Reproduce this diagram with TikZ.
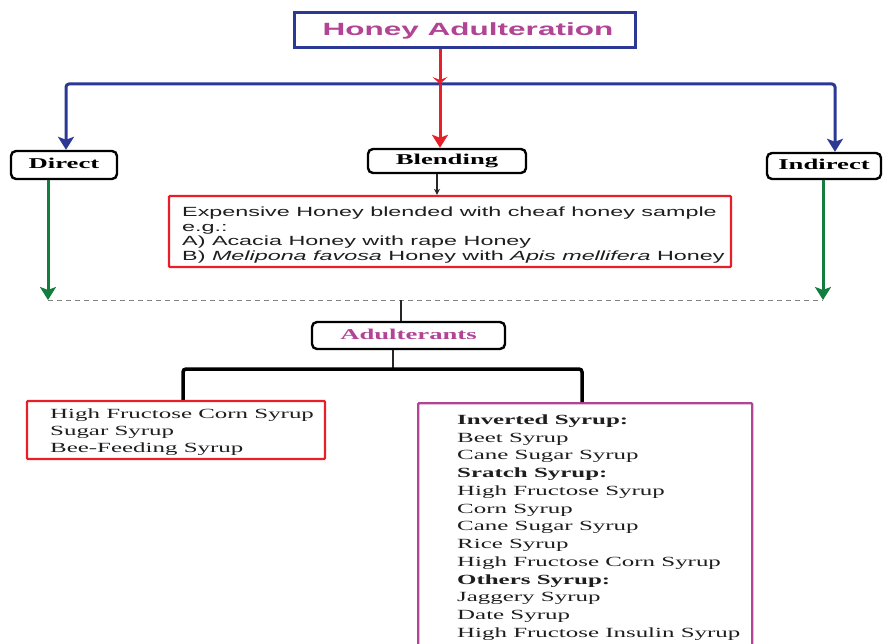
\documentclass[tikz,border=0pt]{standalone}
\usepackage{fontspec}
\usetikzlibrary{arrows.meta,calc}
\newfontfamily\stsans[FakeStretch=1.78]{Liberation Sans}
\newfontfamily\stsansb[FakeStretch=1.755]{Liberation Sans}
\newfontfamily\stserif[FakeStretch=1.78]{Liberation Serif}
\definecolor{dblue}{RGB}{44,57,148}
\definecolor{hred}{RGB}{232,30,40}
\definecolor{dgreen}{RGB}{18,125,60}
\definecolor{hmag}{RGB}{178,68,150}
\definecolor{txt}{RGB}{30,30,30}
\definecolor{dgray}{RGB}{130,130,130}
\begin{document}
\begin{tikzpicture}[x=1pt,y=-1pt,
  catbox/.style={draw=black, line width=2.4pt, rounded corners=5pt, inner sep=0pt,
    text height=10pt, text depth=3pt,
    font=\stserif\bfseries\fontsize{15}{17}\selectfont, text=black},
  boxframe/.style={line width=2.4pt, inner sep=0pt, rounded corners=1pt},
  listtext/.style={anchor=north west, inner sep=0pt, align=left, text=txt},
  arrowtip/.style={-{Stealth[length=13pt,width=16pt,inset=3pt]}},
  blueline/.style={draw=dblue, line width=3pt, arrowtip, rounded corners=3pt},
  redline/.style={draw=hred, line width=3pt},
  greenline/.style={draw=dgreen, line width=3pt, arrowtip},
  heavyline/.style={draw=black, line width=3.5pt, rounded corners=3pt},
  thinline/.style={draw=black!85, line width=1.3pt},
  dashline/.style={draw=dgray, line width=1pt, dash pattern=on 5pt off 4pt}
]
\useasboundingbox (0,0) rectangle (883,644);
\clip (0,0) rectangle (883,644);

% title
\node[draw=dblue, line width=3pt, minimum width=341pt, minimum height=35pt, inner sep=0pt,
  font=\stsans\bfseries\fontsize{17.7}{20}\selectfont, text=hmag] (title) at (464.5,30.5) {\hspace*{7pt}Honey Adulteration};

% category boxes
\node[catbox, minimum width=106pt, minimum height=28pt] (direct) at (64,165) {Direct};
\node[catbox, minimum width=158pt, minimum height=24pt] (blending) at (447,161) {Blending};
\node[catbox, minimum width=114pt, minimum height=26pt] (indirect) at (824,166) {Indirect};

% blending description
\node[boxframe, draw=hred, minimum width=562pt, minimum height=71pt] (expbox) at (450,231.5) {};
\node[listtext, font=\stsansb\fontsize{13.3}{14.8}\selectfont] (exptext) at (182,206.5)
  {Expensive Honey blended with cheaf honey sample\\
   e.g.:\\
   A) Acacia Honey with rape Honey\\
   B) \textit{Melipona favosa} Honey with \textit{Apis mellifera} Honey};

% adulterants
\node[catbox, minimum width=193pt, minimum height=27pt, text=hmag] (adult) at (408.5,335.5) {Adulterants};

% left list
\node[boxframe, draw=hred, minimum width=298pt, minimum height=58pt] (lbox) at (176,430) {};
\node[listtext, font=\stserif\fontsize{14}{17}\selectfont] (ltext) at (50,408.4)
  {High Fructose Corn Syrup\\
   Sugar Syrup\\
   Bee-Feeding Syrup};

% right list
\node[boxframe, draw=hmag, anchor=north west, minimum width=334pt, minimum height=260pt] (rbox) at (417,402) {};
\node[listtext, font=\stserif\fontsize{14}{17.75}\selectfont] (rtext) at (457,414.4)
  {\textbf{Inverted Syrup:}\\
   Beet Syrup\\
   Cane Sugar Syrup\\
   \textbf{Sratch Syrup:}\\
   High Fructose Syrup\\
   Corn Syrup\\
   Cane Sugar Syrup\\
   Rice Syrup\\
   High Fructose Corn Syrup\\
   \textbf{Others Syrup:}\\
   Jaggery Syrup\\
   Date Syrup\\
   High Fructose Insulin Syrup};

% coordinates
\coordinate (hub) at (440,84);
\coordinate (sa) at (437,0);
\coordinate (dl) at (48,300);
\coordinate (dr) at (823,300);
\coordinate (dm) at (401,300);
\coordinate (hm) at (393,369);
\coordinate (rt) at (582,402);

% connectors
\draw[blueline] (hub) -| ([xshift=2pt]direct.north);
\draw[blueline] (hub) -| ([xshift=11pt]indirect.north);
\draw[redline, -{Stealth[length=7pt,width=15pt,inset=3pt]}] (title.south -| hub) -- (hub);
\draw[redline, arrowtip] (hub) -- (hub |- blending.north);
\draw[thinline, -{Stealth[length=6pt,width=6pt]}] (blending.south -| sa) -- (expbox.north -| sa);

\draw[greenline] ([xshift=-16pt]direct.south) -- (dl);
\draw[greenline] ([xshift=-1pt]indirect.south) -- (dr);
\draw[dashline] (dl) -- (dr);

\draw[thinline] (dm) -- (dm |- adult.north);
\draw[thinline] (hm |- adult.south) -- (hm);
\draw[heavyline] ([xshift=7pt]lbox.north) |- (hm) -| (rt);
\end{tikzpicture}
\end{document}
